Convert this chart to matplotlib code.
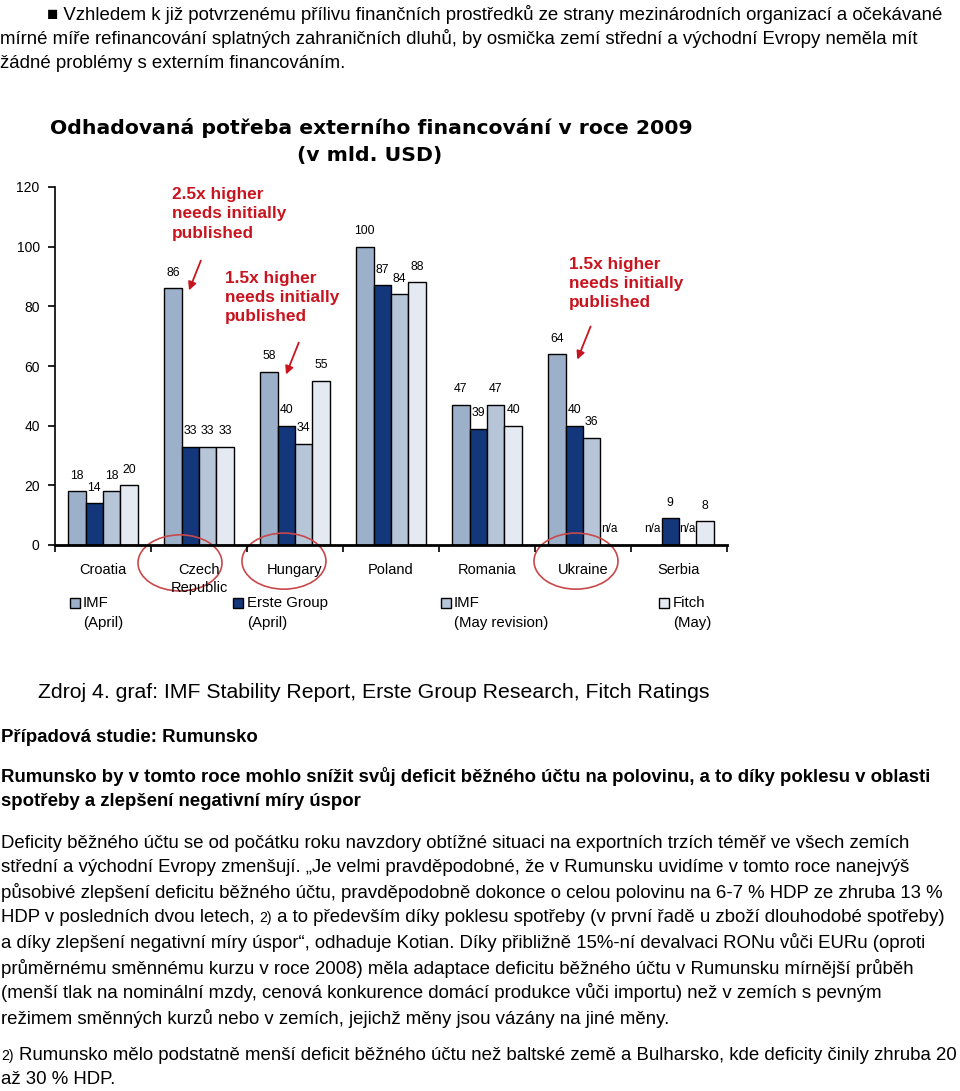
import numpy as np
import matplotlib
matplotlib.use("Agg")
import matplotlib.pyplot as plt
from matplotlib.patches import Ellipse, Rectangle

# ── data ────────────────────────────────────────────────────────────────
countries = ["Croatia", "Czech\nRepublic", "Hungary", "Poland", "Romania", "Ukraine", "Serbia"]
imf_april = [18, 86, 58, 100, 47, 64, np.nan]
erste_april = [14, 33, 40, 87, 39, 40, 9]
imf_may = [18, 33, 34, 84, 47, 36, np.nan]
fitch_may = [20, 33, 55, 88, 40, np.nan, 8]
series = [imf_april, erste_april, imf_may, fitch_may]
series_names = ["IMF", "Erste Group", "IMF", "Fitch"]
series_sub = ["(April)", "(April)", "(May revision)", "(May)"]
colors = ["#9DB0CA", "#13377A", "#B6C5D8", "#E5EAF2"]
yticks = [0, 20, 40, 60, 80, 100, 120]

W, H = 960, 1091
FONT = "Liberation Sans"
RED = "#C8141E"


def px(x, y):
    return x / W, 1 - y / H


fig = plt.figure(figsize=(W / 100, H / 100), dpi=100)
plt.rcParams["font.family"] = [FONT, "DejaVu Sans"]

# ── chart ───────────────────────────────────────────────────────────────
ax = fig.add_axes([55 / W, 1 - 545 / H, (727 - 55) / W, (545 - 187) / H])
bw = 0.182
x = np.arange(len(countries))
for k, vals in enumerate(series):
    xs = x + (k - 1.5) * bw
    ax.bar(xs, vals, width=bw, color=colors[k], edgecolor="black", linewidth=1.0)
    for xi, v in zip(xs, vals):
        if np.isnan(v):
            ax.text(xi, 5.5, "n/a", ha="center", va="center", fontsize=8.5)
        else:
            ax.text(xi, v + 3.2, f"{v:.0f}", ha="center", va="bottom", fontsize=8.8)

ax.set_xlim(-0.5, len(countries) - 0.5)
ax.set_ylim(0, 120)
ax.set_yticks(yticks)
ax.tick_params(axis="y", direction="out", length=5, width=1.2, labelsize=10, pad=6)
ax.set_xticks(x)
ax.set_xticklabels(countries, fontsize=10.5, linespacing=1.35)
ax.tick_params(axis="x", which="major", length=0, pad=13)
ax.set_xticks(np.arange(-0.5, len(countries)), minor=True)
ax.tick_params(axis="x", which="minor", direction="out", length=5, width=1.2)
for s in ["top", "right"]:
    ax.spines[s].set_visible(False)
ax.spines["left"].set_linewidth(1.2)
ax.spines["bottom"].set_linewidth(2)

# red annotations
notes = [
    ("2.5x higher\nneeds initially\npublished", 0.72, 120.0, (1.03, 96.2), (0.885, 84.5)),
    ("1.5x higher\nneeds initially\npublished", 1.27, 92.0, (2.05, 68.7), (1.896, 56.3)),
    ("1.5x higher\nneeds initially\npublished", 4.85, 96.7, (5.09, 74.1), (4.93, 61.3)),
]
for txt, tx, ty, start, tip in notes:
    ax.text(tx, ty, txt, color=RED, fontsize=12.4, fontweight="bold",
            va="top", ha="left", linespacing=1.36)
    ax.annotate("", xy=tip, xytext=start,
                arrowprops=dict(arrowstyle="-|>", color=RED, lw=1.3,
                                mutation_scale=12))

# circles around the countries
for cx, cy in [(0.802, -6.0), (1.885, -5.4), (4.927, -5.4)]:
    ax.add_patch(Ellipse((cx, cy), 0.875, 18.8, fill=False, edgecolor="#C8484B",
                         linewidth=1.2, clip_on=False))

# legend
leg_x = [(70, 83), (233, 247), (441, 454), (659, 673)]
for k, (mx, tx) in enumerate(leg_x):
    fx, fy = px(mx, 608)
    fig.patches.append(Rectangle((fx, fy), 10 / W, 10 / H, transform=fig.transFigure,
                                 facecolor=colors[k], edgecolor="black", linewidth=1.0))
    fig.text(*px(tx, 603), series_names[k], fontsize=10.8, va="center", ha="left")
    fig.text(*px(tx, 623), series_sub[k], fontsize=10.8, va="center", ha="left")

# chart title
fig.text(*px(371, 128), "Odhadovaná potřeba externího financování v roce 2009",
         fontsize=14.7, fontweight="bold", ha="center", va="center", family="DejaVu Sans")
fig.text(*px(370, 156), "(v mld. USD)", fontsize=14.7, fontweight="bold",
         ha="center", va="center", family="DejaVu Sans")

fig.text(*px(38, 693), "Zdroj 4. graf: IMF Stability Report, Erste Group Research, Fitch Ratings",
         fontsize=15.3, ha="left", va="center")

# ── surrounding text ────────────────────────────────────────────────────
BODY = 13.4
top_lines = [
    (47, 14, "■ Vzhledem k již potvrzenému přílivu finančních prostředků ze strany mezinárodních organizací a očekávané"),
    (0, 39, "mírné míře refinancování splatných zahraničních dluhů, by osmička zemí střední a východní Evropy neměla mít"),
    (0, 63, "žádné problémy s externím financováním."),
]
for tx, ty, s in top_lines:
    fig.text(*px(tx, ty), s, fontsize=BODY, ha="left", va="center")

fig.text(*px(1, 737), "Případová studie: Rumunsko", fontsize=BODY, fontweight="bold",
         ha="left", va="center")
fig.text(*px(1, 777), "Rumunsko by v tomto roce mohlo snížit svůj deficit běžného účtu na polovinu, a to díky poklesu v oblasti",
         fontsize=BODY, fontweight="bold", ha="left", va="center")
fig.text(*px(1, 802), "spotřeby a zlepšení negativní míry úspor", fontsize=BODY,
         fontweight="bold", ha="left", va="center")

para = [
    "Deficity běžného účtu se od počátku roku navzdory obtížné situaci na exportních trzích téměř ve všech zemích",
    "střední a východní Evropy zmenšují. „Je velmi pravděpodobné, že v Rumunsku uvidíme v tomto roce nanejvýš",
    "působivé zlepšení deficitu běžného účtu, pravděpodobně dokonce o celou polovinu na 6-7 % HDP ze zhruba 13 %",
    None,
    "a díky zlepšení negativní míry úspor“, odhaduje Kotian. Díky přibližně 15%-ní devalvaci RONu vůči EURu (oproti",
    "průměrnému směnnému kurzu v roce 2008) měla adaptace deficitu běžného účtu v Rumunsku mírnější průběh",
    "(menší tlak na nominální mzdy, cenová konkurence domácí produkce vůči importu) než v zemích s pevným",
    "režimem směnných kurzů nebo v zemích, jejichž měny jsou vázány na jiné měny.",
]
for i, s in enumerate(para):
    if s is not None:
        fig.text(*px(1, 843 + 25 * i), s, fontsize=BODY, ha="left", va="center")

# line with the inline footnote mark
renderer = fig.canvas.get_renderer()
y_fn = 843 + 25 * 3
t1 = fig.text(*px(1, y_fn), "HDP v posledních dvou letech, ", fontsize=BODY, ha="left", va="center")
x_end = t1.get_window_extent(renderer).x1
t2 = fig.text(x_end / W, 1 - y_fn / H, "2)", fontsize=BODY * 0.75, ha="left", va="center")
x_end = t2.get_window_extent(renderer).x1
fig.text(x_end / W, 1 - y_fn / H,
         " a to především díky poklesu spotřeby (v první řadě u zboží dlouhodobé spotřeby)",
         fontsize=BODY, ha="left", va="center")

fig.text(*px(1, 1056), "2)", fontsize=BODY * 0.75, ha="left", va="center")
fig.text(*px(19, 1056), "Rumunsko mělo podstatně menší deficit běžného účtu než baltské země a Bulharsko, kde deficity činily zhruba 20",
         fontsize=BODY, ha="left", va="center")
fig.text(*px(1, 1080), "až 30 % HDP.", fontsize=BODY, ha="left", va="center")

fig.savefig("out.png", dpi=100)
